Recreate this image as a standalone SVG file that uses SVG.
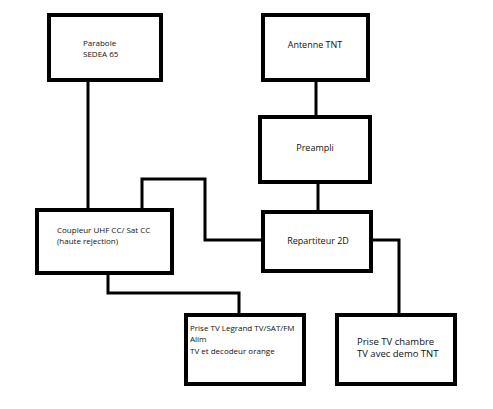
<svg xmlns="http://www.w3.org/2000/svg" width="493" height="409" viewBox="0 0 493 409">
<style>
.box{fill:#fff;stroke:#000;stroke-width:4}
.wire{fill:none;stroke:#000;stroke-width:3}
text{font-family:"Open Sans","Noto Sans",sans-serif;font-size:8px;fill:#111}
.c{text-anchor:middle;font-size:9px}
.big{font-size:9.5px}
</style>
<rect width="493" height="409" fill="#fff"/>
<g id="connectors">
<path class="wire" d="M88 82 V209"/>
<path class="wire" d="M316 82 V116"/>
<path class="wire" d="M318 183 V211"/>
<path class="wire" d="M142 209 V179 H205 V240 H262"/>
<path class="wire" d="M108 274 V293 H239 V314"/>
<path class="wire" d="M372 240 H399 V314"/>
</g>
<g id="parabole">
<rect class="box" x="49" y="15" width="112" height="65"/>
<text x="83" y="46">Parabole</text>
<text x="83" y="57">SEDEA 65</text>
</g>
<g id="antenne">
<rect class="box" x="263" y="15" width="105" height="65"/>
<text class="c" x="315" y="48">Antenne TNT</text>
</g>
<g id="preampli">
<rect class="box" x="260" y="117" width="110" height="65"/>
<text class="c" x="315" y="151">Preampli</text>
</g>
<g id="coupleur">
<rect class="box" x="37" y="210" width="135" height="63"/>
<text x="57" y="233">Coupleur UHF CC/ Sat CC</text>
<text x="57" y="244">(haute rejection)</text>
</g>
<g id="repartiteur">
<rect class="box" x="263" y="212" width="108" height="59"/>
<text class="c" x="318" y="244">Repartiteur 2D</text>
</g>
<g id="prise-legrand">
<rect class="box" x="186" y="315" width="118" height="69"/>
<text x="190" y="331">Prise TV Legrand TV/SAT/FM</text>
<text x="190" y="342">Alim</text>
<text x="190" y="354">TV et decodeur orange</text>
</g>
<g id="prise-chambre">
<rect class="box" x="337" y="315" width="118" height="69"/>
<text class="big" x="357" y="345">Prise TV chambre</text>
<text class="big" x="357" y="357">TV avec demo TNT</text>
</g>
</svg>
